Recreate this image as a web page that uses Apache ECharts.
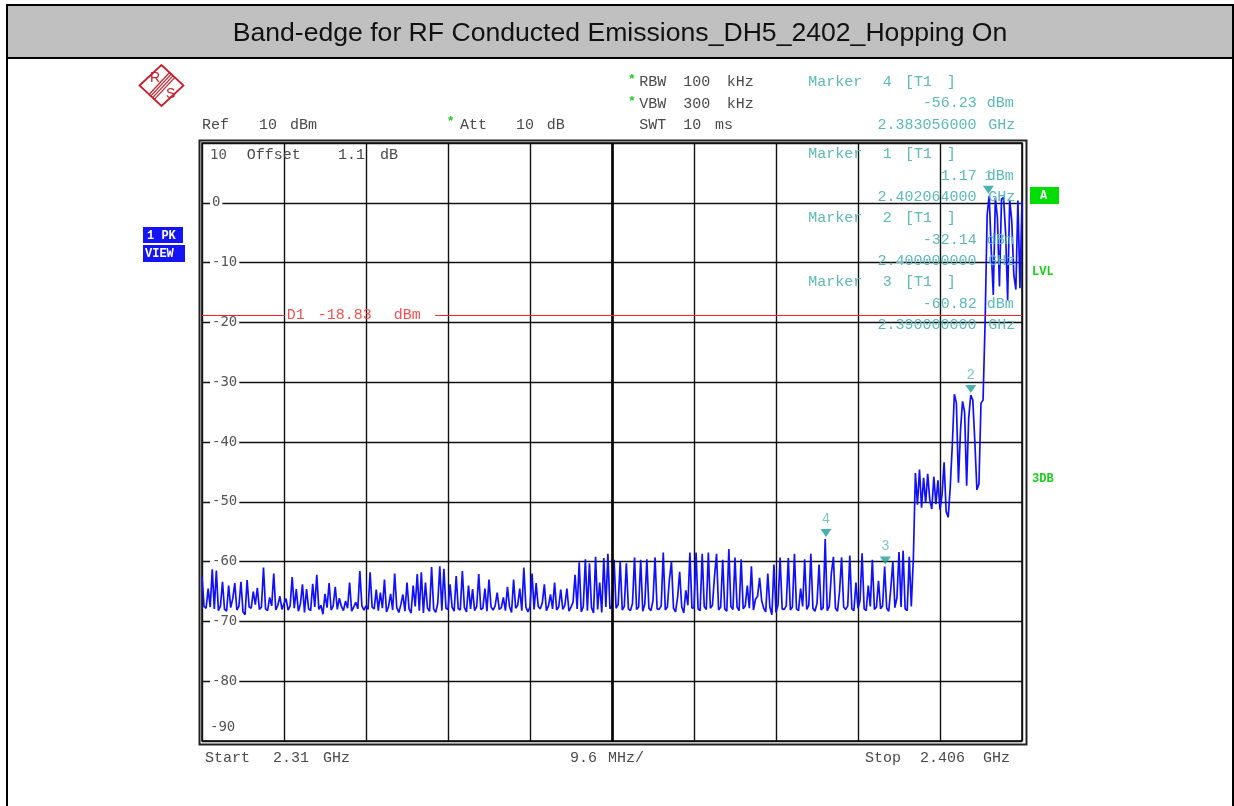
<!DOCTYPE html>
<html><head><meta charset="utf-8">
<script src="https://cdn.jsdelivr.net/npm/echarts@6/dist/echarts.min.js"></script>
<style>html,body{margin:0;padding:0;background:#fff}#c{width:1234px;height:806px}</style>
</head><body><div id="c"></div>
<script>
const chartTitle = 'Band-edge for RF Conducted Emissions_DH5_2402_Hopping On';
const startMHz = 2310, stopMHz = 2406, stepMHz = 0.24;
const yMin = -90, yMax = 10, yStep = 10;
const xDivisions = 10;

// trace levels (dBm), one value per sweep point
const traceFloor = [
-62.5,-67.5,-67.8,-64.5,-67.6,-61.3,-67.9,-61.5,-68.2,-67.4,-63.4,-68.0,-68.3,-64.0,-67.7,-66.2,-63.6,-68.1,-67.5,-63.4,-68.4,-68.9,-63.1,-67.6,-67.8,-65.0,-67.2,-64.4,-68.0,-67.6,-61.0,-67.9,-68.2,-66.0,-67.4,-62.0,-68.1,-67.3,-65.8,-68.0,
-67.0,-66.2,-68.1,-67.4,-62.6,-67.8,-64.6,-68.3,-67.1,-63.8,-68.5,-64.6,-67.9,-68.2,-63.7,-67.6,-62.2,-68.0,-67.3,-68.8,-65.4,-67.7,-63.6,-68.1,-67.4,-64.2,-68.0,-66.1,-67.5,-68.2,-66.6,-67.8,-63.5,-68.3,-67.6,-66.8,-67.9,-61.6,-67.4,-68.1,
-67.4,-68.0,-61.8,-67.6,-67.9,-64.7,-68.2,-65.2,-67.8,-63.0,-68.4,-67.5,-65.4,-68.1,-62.0,-67.7,-68.5,-67.2,-65.5,-68.3,-63.5,-67.9,-68.6,-64.0,-67.5,-62.1,-68.2,-61.8,-68.6,-63.5,-67.8,-68.3,-60.9,-67.9,-68.5,-67.0,-60.8,-68.2,-61.2,-67.8,
-68.0,-63.8,-67.6,-68.3,-62.4,-67.9,-68.1,-61.6,-67.7,-68.4,-64.0,-67.9,-64.6,-68.2,-67.5,-62.1,-68.0,-67.8,-64.5,-68.3,-63.0,-67.6,-68.1,-67.4,-65.2,-68.0,-67.7,-66.0,-68.2,-64.2,-67.5,-68.5,-63.0,-67.8,-67.3,-64.5,-68.2,-61.0,-67.6,-68.4,
-67.6,-62.0,-68.0,-63.6,-67.5,-67.9,-66.9,-63.8,-68.2,-67.4,-65.5,-67.9,-63.5,-68.1,-67.6,-64.7,-68.0,-67.3,-64.5,-68.3,-67.6,-66.8,-62.2,-67.9,-60.1,-68.4,-67.5,-59.6,-68.2,-60.3,-67.7,-68.6,-59.2,-68.0,-63.5,-68.5,-59.4,-67.6,-58.7,-67.9,
-67.4,-59.7,-67.8,-67.2,-60.0,-68.1,-67.5,-60.3,-67.9,-68.2,-67.0,-59.3,-68.0,-67.6,-59.7,-68.3,-67.1,-59.6,-67.8,-68.2,-66.5,-59.3,-67.9,-68.0,-67.4,-58.5,-68.1,-67.6,-63.0,-60.0,-67.8,-68.4,-66.0,-61.7,-67.5,-68.6,-64.8,-67.3,-58.5,-67.8,
-67.7,-58.5,-67.9,-68.2,-58.7,-67.5,-68.0,-58.5,-67.8,-67.3,-62.5,-58.7,-68.1,-67.6,-59.7,-67.9,-68.3,-57.9,-67.5,-68.0,-59.3,-67.6,-68.2,-59.6,-67.9,-67.4,-64.0,-67.8,-60.8,-68.1,-66.3,-65.8,-62.7,-66.5,-67.8,-68.4,-62.0,-67.6,-68.9,-60.5,
-68.5,-67.2,-59.3,-67.9,-68.0,-67.4,-59.4,-68.1,-67.6,-58.7,-67.9,-68.2,-64.5,-67.5,-59.6,-68.0,-67.3,-58.7,-67.8,-68.3,-67.0,-60.5,-68.1,-67.7,-56.23,-68.2,-67.5,-62.0,-59.2,-67.8,-68.3,-65.0,-59.3,-67.6,-68.0,-67.4,-59.0,-67.9,-68.2,-63.5,
-67.8,-66.5,-58.6,-67.9,-68.2,-64.0,-67.5,-59.7,-68.0,-67.6,-63.2,-67.9,-67.4,-60.82,-67.8,-68.3,-64.5,-60.0,-67.7,-66.0,-58.4,-67.6,-58.2,-67.9,-68.2,-59.2,-67.5,-59.5
];
const traceStep1 = [-45.2,-50.5,-44.6,-51.0,-46.0,-50.2,-45.3,-49.6,-51.2,-45.8,-50.4,-46.4,-51.3,-48.8,-43.4,-51.6,-52.6,-47.5];
const traceStep2 = [-40.5,-32.0,-33.5,-46.8,-38.0,-33.2,-35.0,-47.3,-36.0,-32.14,-33.0,-40.0,-48.0,-47.0,-33.5];
const traceCarrier = [-33.0,-20.0,-2.0,1.17,-8.0,-15.4,0.8,-2.5,-14.0,0.6,0.9,-5.0,-16.3,0.5,-3.0,-12.0,-14.5,0.4,-14.3,0.2];

const markerNames = ['1','2','3','4'];
const markerFreqs = [2402.064, 2400.0, 2390.0, 2383.056];
const markerLevels = [1.17, -32.14, -60.82, -56.23];
const displayLineLevel = -18.83;
const displayLineGap = [2319.7, 2337.3];

const levels = traceFloor.concat(traceStep1, traceStep2, traceCarrier);
const traceData = levels.map((v, i) => [startMHz + i * stepMHz, v]);
const markerData = markerFreqs.map((f, i) => [f, markerLevels[i], markerNames[i]]);

const MONO = '"Liberation Mono","Courier New",monospace';
const GREY = '#4a4a4a', TEAL = '#5ab9b9', GREEN = '#18d018';
function T(x, y, text, o) {
  return {type:'text', x:x, y:y, silent:true, z:5,
    style:Object.assign({text:text, fill:GREY, font:'15px ' + MONO,
      textAlign:'left', align:'left', textVerticalAlign:'middle', verticalAlign:'middle'}, o || {})};
}
function R(x, y, text) { return T(x, y, text, {textAlign:'right', align:'right', fill:TEAL}); }
function star(x, y) { return T(x, y, '*', {fill:GREEN, font:'bold 13px ' + MONO}); }

const markerText = [];
function markerBlock(y0, num, val, freq) {
  const d = 21.5;
  markerText.push(T(808.3, y0, 'Marker', {fill:TEAL}), T(882.7, y0, num, {fill:TEAL}),
    T(905, y0, '[T1', {fill:TEAL}), T(946.7, y0, ']', {fill:TEAL}),
    R(976.7, y0 + d, val), T(986.7, y0 + d, 'dBm', {fill:TEAL}),
    R(976.5, y0 + 2 * d, freq), T(988.3, y0 + 2 * d, 'GHz', {fill:TEAL}));
}
markerBlock(82, '4', '-56.23', '2.383056000');
markerBlock(154.3, '1', '1.17', '2.402064000');
markerBlock(218.3, '2', '-32.14', '2.400000000');
markerBlock(282.3, '3', '-60.82', '2.390000000');

const RS = '#c8202a';
const logo = [
  {type:'polygon', shape:{points:[[139.5,85.5],[161.5,65],[183.5,85.5],[161.5,106]]}, style:{fill:'none', stroke:RS, lineWidth:1.8}},
  {type:'line', shape:{x1:170,y1:72,x2:149.5,y2:94}, style:{stroke:RS, lineWidth:1.2}},
  {type:'line', shape:{x1:171.7,y1:73.7,x2:151.2,y2:95.7}, style:{stroke:RS, lineWidth:1.2}},
  {type:'line', shape:{x1:173.4,y1:75.4,x2:152.9,y2:97.4}, style:{stroke:RS, lineWidth:1.2}},
  {type:'line', shape:{x1:175.1,y1:77.1,x2:154.6,y2:99.1}, style:{stroke:RS, lineWidth:1.2}},
  T(150, 78, 'R', {fill:RS, font:'14px "Liberation Sans",sans-serif'}),
  T(166, 94, 'S', {fill:RS, font:'14px "Liberation Sans",sans-serif'})
];

const graphics = [
  {type:'rect', z:0, silent:true, shape:{x:8, y:6, width:1224, height:52}, style:{fill:'#c0c0c0'}},
  {type:'rect', z:1, silent:true, shape:{x:7, y:5, width:1226, height:820}, style:{fill:'none', stroke:'#000', lineWidth:2}},
  {type:'line', z:1, silent:true, shape:{x1:7, y1:58, x2:1233, y2:58}, style:{stroke:'#000', lineWidth:2}},
  {type:'text', z:5, silent:true, x:620, y:34, style:{text:chartTitle, fill:'#111', font:'26.6px "Liberation Sans",Arial,sans-serif', textAlign:'center', align:'center', textVerticalAlign:'middle', verticalAlign:'middle'}},
  {type:'rect', z:1, silent:true, shape:{x:199.5, y:140.5, width:827, height:604}, style:{fill:'none', stroke:'#222', lineWidth:2}},
  // header
  star(628, 79.3), T(639.3, 81.7, 'RBW'), T(683.3, 81.7, '100'), T(726.7, 81.7, 'kHz'),
  star(628, 101.7), T(639.3, 104, 'VBW'), T(683.3, 104, '300'), T(726.7, 104, 'kHz'),
  T(202, 125, 'Ref'), T(259, 125, '10'), T(290, 125, 'dBm'),
  star(446.7, 122), T(460, 125, 'Att'), T(516, 125, '10'), T(546.7, 125, 'dB'),
  T(639.3, 125, 'SWT'), T(683.3, 125, '10'), T(715, 125, 'ms'),
  T(246.7, 155, 'Offset'), T(338, 155, '1.1'), T(380, 155, 'dB'),
  // bottom
  T(205, 758, 'Start'), T(273, 758, '2.31'), T(323, 758, 'GHz'),
  T(570, 758, '9.6'), T(608, 758, 'MHz/'),
  T(865, 758, 'Stop'), T(920, 758, '2.406'), T(983, 758, 'GHz'),
  // left boxes
  {type:'rect', z:3, silent:true, shape:{x:143, y:227, width:40, height:16}, style:{fill:'#1414f5'}},
  {type:'rect', z:3, silent:true, shape:{x:143, y:245, width:42, height:17}, style:{fill:'#1414f5'}},
  T(147, 235.5, '1 PK', {fill:'#fff', font:'bold 12px ' + MONO}),
  T(145, 253.5, 'VIEW', {fill:'#fff', font:'bold 12px ' + MONO}),
  // right indicators
  {type:'rect', z:3, silent:true, shape:{x:1030, y:187, width:29, height:17}, style:{fill:'#00dd00'}},
  T(1040, 196, 'A', {fill:'#fff', font:'bold 12px ' + MONO}),
  T(1032, 272, 'LVL', {fill:GREEN, font:'bold 12px ' + MONO}),
  T(1032, 479, '3DB', {fill:GREEN, font:'bold 12px ' + MONO})
].concat(logo, markerText);

const chart = echarts.init(document.getElementById('c'), null, {renderer:'canvas'});
chart.setOption({
  animation:false,
  backgroundColor:'#fff',
  grid:{left:202, top:143, width:820, height:598, show:true, borderColor:'#000', borderWidth:1.5, backgroundColor:'transparent'},
  xAxis:[
    {type:'value', min:startMHz, max:stopMHz, show:false, splitLine:{show:false}},
    {type:'value', min:0, max:xDivisions, interval:1, axisLine:{show:false}, axisTick:{show:false}, axisLabel:{show:false},
     splitLine:{show:true, lineStyle:{color:'#111', width:1.4}}}
  ],
  yAxis:{type:'value', min:yMin, max:yMax, interval:yStep,
    axisLine:{show:false}, axisTick:{show:false},
    splitLine:{show:true, lineStyle:{color:'#111', width:1.4}},
    axisLabel:{inside:true, margin:8, color:'#555', fontFamily:'"DejaVu Sans Mono",monospace', fontSize:14,
      formatter:function(v){ return v === yMax ? '{t|' + v + '}' : (v === yMin ? '{b|' + v + '}' : '{n|' + v + '}'); },
      rich:{n:{backgroundColor:'#fff', padding:[1,2]}, t:{padding:[24,0,0,0]}, b:{padding:[0,0,28,0]}}}
  },
  graphic:graphics,
  series:[
    {type:'line', xAxisIndex:1, data:[], silent:true,
     markLine:{silent:true, symbol:'none', label:{show:false}, lineStyle:{color:'#000', width:2.6, type:'solid'},
       data:[{xAxis:xDivisions / 2}]}},
    {type:'line', name:'trace', xAxisIndex:0, data:traceData, showSymbol:false, symbol:'none', silent:true, z:4,
     lineStyle:{color:'#1010ff', width:1.7},
     markLine:{silent:true, symbol:'none', animation:false,
       lineStyle:{color:'#ff2020', width:1.2, type:'solid'},
       data:[
         [{coord:[startMHz, displayLineLevel], label:{show:true, position:'end', distance:2,
             formatter:'{a|D1}{b|' + displayLineLevel.toFixed(2) + '}{c|dBm}',
             color:'#f05050', fontFamily:MONO, fontSize:15,
             rich:{a:{padding:[0,13,0,0]}, b:{padding:[0,22,0,0]}, c:{}}}},
          {coord:[displayLineGap[0], displayLineLevel]}],
         [{coord:[displayLineGap[1], displayLineLevel], label:{show:false}}, {coord:[stopMHz, displayLineLevel]}]
       ]}},
    {type:'scatter', name:'markers', xAxisIndex:0, data:markerData, z:6, silent:true,
     symbol:'triangle', symbolRotate:180, symbolSize:[11,8], symbolOffset:[0,-6],
     itemStyle:{color:'#1e9c9c'},
     label:{show:true, position:'top', distance:3, formatter:function(p){return p.data[2];}, color:TEAL, fontFamily:MONO, fontSize:14}}
  ]
});
</script></body></html>
